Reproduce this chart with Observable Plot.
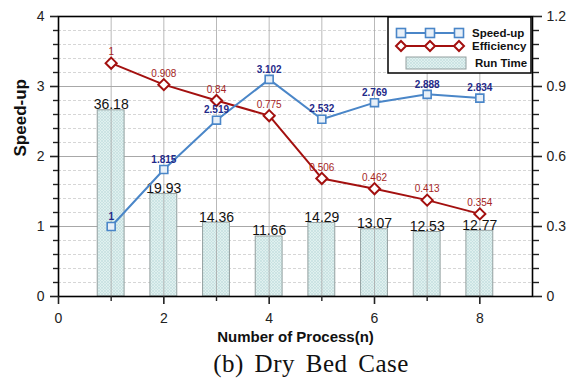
<!DOCTYPE html>
<html><head><meta charset="utf-8">
<script src="https://cdn.jsdelivr.net/npm/d3@7"></script>
<script src="https://cdn.jsdelivr.net/npm/@observablehq/plot@0.6"></script>
<style>
body{margin:0;background:#fff;position:relative;width:573px;height:387px;overflow:hidden;}
#caption{position:absolute;left:0;top:352px;width:622px;text-align:center;font-family:"Liberation Serif","DejaVu Serif",serif;font-size:25px;line-height:24px;color:#111;word-spacing:4px;letter-spacing:0.5px;}
</style></head><body><div id="chart"></div><div id="caption">(b) Dry Bed Case</div>
<script>
const processes = [1, 2, 3, 4, 5, 6, 7, 8];
const speedUp = [1, 1.815, 2.519, 3.102, 2.532, 2.769, 2.888, 2.834];
const efficiency = [1, 0.908, 0.84, 0.775, 0.506, 0.462, 0.413, 0.354];
const runTime = [36.18, 19.93, 14.36, 11.66, 14.29, 13.07, 12.53, 12.77];
const xTicks = [0, 2, 4, 6, 8];
const xMinorTicks = [1, 3, 5, 7];
const leftTicks = [0, 1, 2, 3, 4];
const rightTickLabels = ["0", "0.3", "0.6", "0.9", "1.2"];
const speedMax = 4, effMax = 1.2, runTimeMax = 54.4;

const data = processes.map((n, i) => ({n, s: speedUp[i], e: efficiency[i], r: runTime[i]}));
const eToY = e => e / effMax * speedMax;
const rToY = r => r / runTimeMax * speedMax;
const minorY = d3.range(0, 20).map(i => i * 0.2).filter(v => Math.abs(v - Math.round(v)) > 1e-6);

const blue = "#4a86c8", red = "#a3100f";
const blank = () => "";

const svg = Plot.plot({
  width: 573, height: 350,
  marginLeft: 58, marginRight: 41, marginTop: 16, marginBottom: 54,
  x: {domain: [0, 9]},
  y: {domain: [0, speedMax]},
  style: {fontFamily: "Arial, 'Liberation Sans', sans-serif", fontSize: "14px", color: "#222", background: "#fff"},
  marks: [
    Plot.gridY(minorY, {stroke: "#c4c4c4", strokeOpacity: 1, strokeDasharray: "3,2", strokeWidth: 0.7}),
    Plot.gridY(leftTicks, {stroke: "#a8a8a8", strokeOpacity: 1}),
    Plot.rect(data, {x1: d => d.n - 0.255, x2: d => d.n + 0.255, y1: 0, y2: d => rToY(d.r), fill: "url(#hatch)", stroke: "#939f9f", strokeWidth: 1}),
    Plot.gridX(processes, {stroke: "#a8a8a8", strokeOpacity: 0.8}),
    Plot.text(data, {x: "n", y: d => rToY(d.r), text: d => d.r.toFixed(2), lineAnchor: "bottom", dy: -1, fontSize: 14, fill: "#111"}),
    Plot.line(data, {x: "n", y: d => eToY(d.e), stroke: red, strokeWidth: 2}),
    Plot.dot(data, {x: "n", y: d => eToY(d.e), symbol: "diamond2", r: 5, fill: "white", stroke: red, strokeWidth: 2}),
    Plot.text(data, {x: "n", y: d => eToY(d.e), text: d => String(d.e), dy: -11, fontSize: 10, fill: "#a52525"}),
    Plot.line(data, {x: "n", y: "s", stroke: blue, strokeWidth: 2}),
    Plot.dot(data, {x: "n", y: "s", symbol: "square", r: 4.5, fill: "#e8f0f8", stroke: blue, strokeWidth: 1.6}),
    Plot.text(data, {x: "n", y: "s", text: d => String(d.s), dy: -10, fontSize: 10, fontWeight: "bold", fill: "#1f2a8a"}),
    Plot.frame({stroke: "#000", strokeWidth: 1.6}),
    Plot.axisY(leftTicks, {anchor: "left", tickSize: 8, tickPadding: 6, label: null, strokeWidth: 1.6, tickFormat: d => String(d), fill: "#222"}),
    Plot.axisY(minorY, {anchor: "left", tickSize: 5, tickFormat: blank, label: null, strokeWidth: 1.4}),
    Plot.axisY(leftTicks, {anchor: "right", tickSize: 9, tickPadding: 5, label: null, strokeWidth: 1.6, tickFormat: d => rightTickLabels[leftTicks.indexOf(d)], fill: "#222"}),
    Plot.axisY(minorY, {anchor: "right", tickSize: 6, tickFormat: blank, label: null, strokeWidth: 1.4}),
    Plot.axisX(xTicks, {anchor: "bottom", tickSize: 8, tickPadding: 9, label: null, strokeWidth: 1.6, tickFormat: d => String(d), fill: "#222"}),
    Plot.axisX(xMinorTicks, {anchor: "bottom", tickSize: 5, tickFormat: blank, label: null, strokeWidth: 1.4}),
    Plot.text(["Number of Process(n)"], {frameAnchor: "bottom", dy: 45, fontSize: 15, fontWeight: "bold", fill: "#111"}),
    Plot.text(["Speed-up"], {frameAnchor: "left", dx: -38, rotate: -90, lineAnchor: "middle", fontSize: 17, fontWeight: "bold", fill: "#111"})
  ]
});
document.getElementById("chart").appendChild(svg);

// hatch pattern for run-time bars
const s = d3.select(svg);
const defs = s.append("defs");
const pat = defs.append("pattern").attr("id", "hatch").attr("patternUnits", "userSpaceOnUse").attr("width", 3).attr("height", 3);
pat.append("rect").attr("width", 3).attr("height", 3).attr("fill", "#e0f0ef");
pat.append("path").attr("d", "M0,3L3,0M0,0L3,3").attr("stroke", "#bfdcdc").attr("stroke-width", 0.6);

// legend
const lg = s.append("g").attr("font-family", "Arial, 'Liberation Sans', sans-serif").attr("font-weight", "bold").attr("font-size", 11.5).attr("text-anchor", "start");
lg.append("rect").attr("x", 388).attr("y", 17).attr("width", 143).attr("height", 56).attr("fill", "white").attr("stroke", "#000").attr("stroke-width", 1.5);
const rows = [
  {label: "Speed-up", y: 33, color: blue, square: true, fill: "#e8f0f8"},
  {label: "Efficiency", y: 46, color: red, square: false, fill: "white"}
];
rows.forEach(r => {
  lg.append("line").attr("x1", 397).attr("x2", 460).attr("y1", r.y).attr("y2", r.y).attr("stroke", r.color).attr("stroke-width", 2);
  [401, 430, 459].forEach(x => {
    if (r.square) {
      lg.append("rect").attr("x", x - 4.5).attr("y", r.y - 4.5).attr("width", 9).attr("height", 9).attr("fill", r.fill).attr("stroke", r.color).attr("stroke-width", 1.6);
    } else {
      lg.append("path").attr("d", `M${x},${r.y - 5}L${x + 5},${r.y}L${x},${r.y + 5}L${x - 5},${r.y}Z`).attr("fill", r.fill).attr("stroke", r.color).attr("stroke-width", 2);
    }
  });
  lg.append("text").attr("x", 472).attr("y", r.y).attr("dy", "0.35em").attr("fill", "#111").text(r.label);
});
lg.append("rect").attr("x", 406).attr("y", 57).attr("width", 60).attr("height", 12).attr("fill", "url(#hatch)").attr("stroke", "#939f9f");
lg.append("text").attr("x", 475).attr("y", 63).attr("dy", "0.35em").attr("fill", "#111").text("Run Time");
</script>
</body></html>
